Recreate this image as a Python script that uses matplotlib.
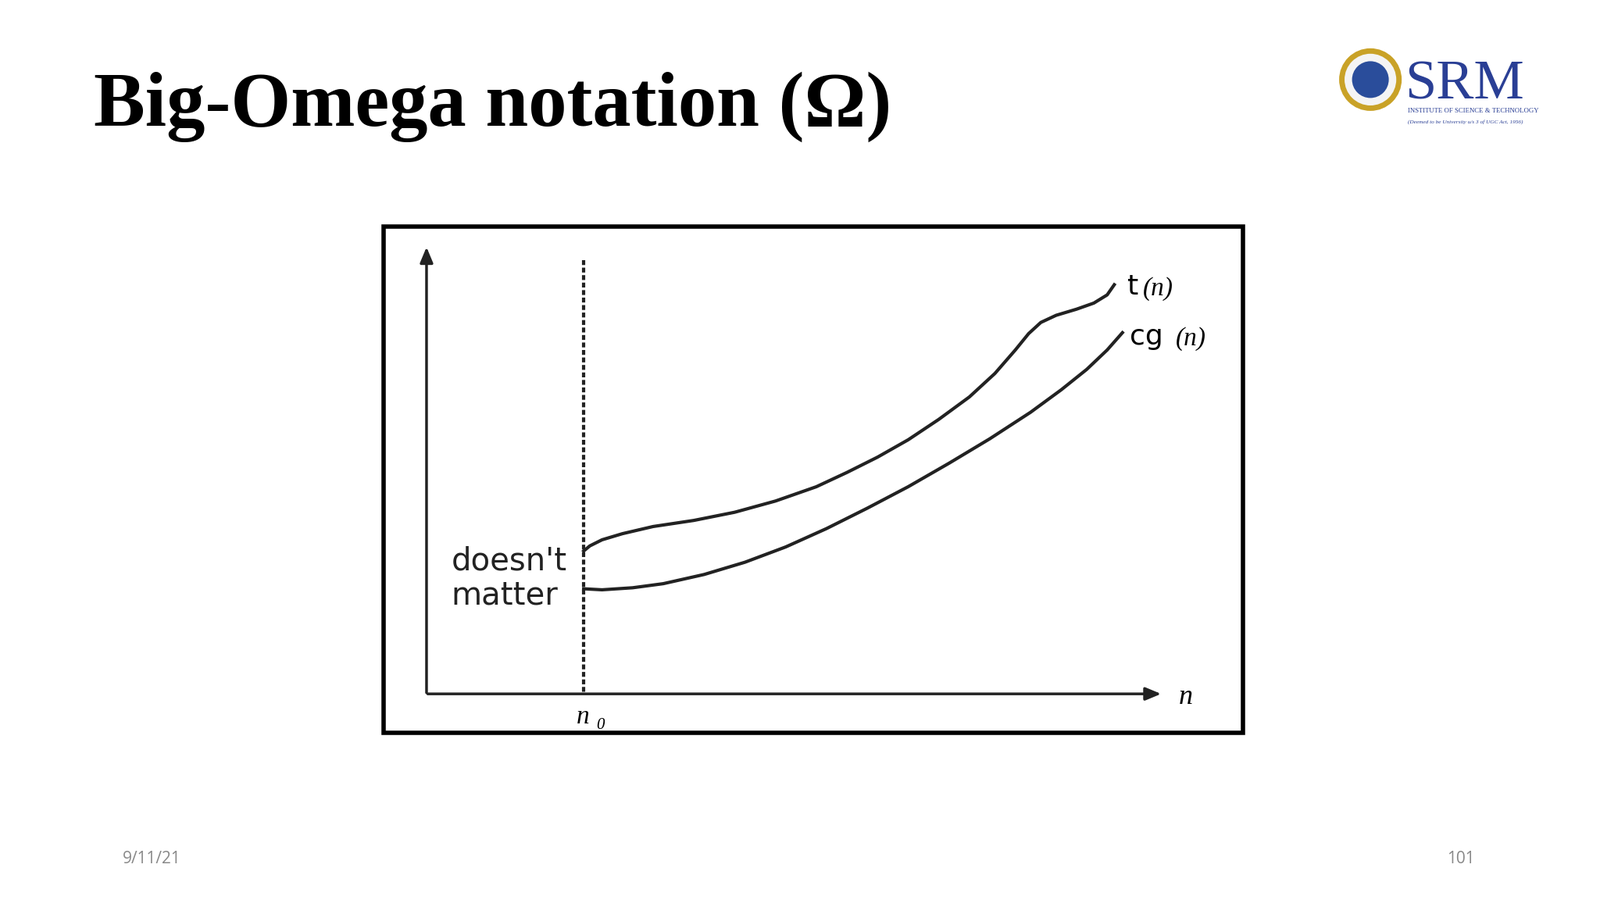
import numpy as np
import matplotlib.pyplot as plt
from matplotlib.patches import Rectangle, Circle

# curves (slide pixel coords, 1568 x 882 grid)
t_x = [572, 578, 590, 610, 640, 680, 720, 760, 800, 830, 860, 890, 920, 950, 975, 995, 1008,
       1020, 1035, 1055, 1072, 1085, 1092]
t_y = [540, 535, 529, 523, 516, 510, 502, 491, 477, 463, 448, 431, 411, 389, 366, 343, 327,
       316, 309, 303, 297, 289, 279]
cg_x = [572, 590, 620, 650, 690, 730, 770, 810, 850, 890, 930, 970, 1010, 1040, 1065, 1085, 1100]
cg_y = [577, 578, 576, 572, 563, 551, 536, 518, 498, 477, 454, 430, 404, 382, 362, 343, 326]

fig = plt.figure(figsize=(20.48, 11.52), dpi=100)
ax = fig.add_axes([0, 0, 1, 1])
ax.set_xlim(0, 1568)
ax.set_ylim(882, 0)
ax.axis('off')

ax.text(92, 105, 'Big-Omega notation (\u03a9)', fontsize=71, fontweight='bold',
        family='Liberation Serif', va='center', ha='left')

# logo
ax.add_patch(Circle((1343, 78), 28, fc='#f4f4f4', ec='#c9a227', lw=5))
ax.add_patch(Circle((1343, 78), 18, fc='#2a4d9b', ec='none'))
ax.text(1377, 97, 'SRM', fontsize=52, family='Liberation Serif', color='#2a3f95', va='baseline')
ax.text(1380, 110, 'INSTITUTE OF SCIENCE & TECHNOLOGY', fontsize=6.3, family='Liberation Serif', color='#2a3f95')
ax.text(1380, 121, '(Deemed to be University u/s 3 of UGC Act, 1956)', fontsize=5.2, family='Liberation Serif',
        color='#2a3f95', style='italic')

# frame
ax.add_patch(Rectangle((376, 222), 842, 496, fill=False, ec='black', lw=4))

# axes arrows
ax.annotate('', xy=(418, 240), xytext=(418, 681),
            arrowprops=dict(arrowstyle='-|>,head_width=0.5,head_length=1.2', lw=2.5, color='#222'))
ax.annotate('', xy=(1140, 680), xytext=(417, 680),
            arrowprops=dict(arrowstyle='-|>,head_width=0.5,head_length=1.2', lw=2.5, color='#222'))
ax.plot([572, 572], [255, 680], color='#222', lw=3, ls=(0, (1.5, 0.8)))

ax.plot(t_x, t_y, color='#222', lw=3, solid_joinstyle='round')
ax.plot(cg_x, cg_y, color='#222', lw=3, solid_joinstyle='round')

ax.text(1105, 281, 't', fontsize=26, family='DejaVu Sans', va='center')
ax.text(1120, 283, '(n)', fontsize=24, family='Liberation Serif', style='italic', va='center')
ax.text(1107, 330, 'cg', fontsize=26, family='DejaVu Sans', va='center')
ax.text(1152, 332, '(n)', fontsize=24, family='Liberation Serif', style='italic', va='center')
ax.text(1155, 683, 'n', fontsize=26, family='Liberation Serif', style='italic', va='center')
ax.text(565, 703, 'n', fontsize=24, family='Liberation Serif', style='italic', va='center')
ax.text(584, 711, '0', fontsize=15, family='Liberation Serif', style='italic', va='center')
ax.text(442, 550, "doesn't", fontsize=29, family='DejaVu Sans', va='center', color='#222')
ax.text(442, 584, 'matter', fontsize=29, family='DejaVu Sans', va='center', color='#222')

ax.text(120, 842, '9/11/21', fontsize=15, color='#888', family='Open Sans', va='center')
ax.text(1418, 842, '101', fontsize=15, color='#888', family='Open Sans', va='center')

fig.savefig('out.png', dpi=100)
